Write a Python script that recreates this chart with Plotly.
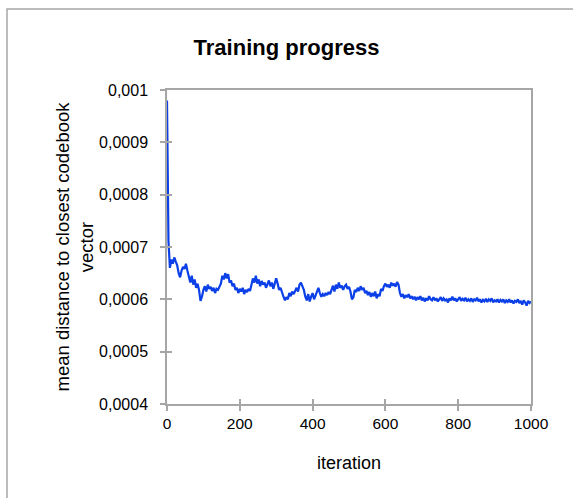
import plotly.graph_objects as go

# ---- data ----
head_iterations = [0, 1, 2, 3]
head_values = [0.00098, 0.00086, 0.00076, 0.000715]

step_iterations = list(range(4, 1001, 4))
step_values = [
    712, 660, 676, 668, 680, 672, 665, 650, 642, 655,
    662, 658, 668, 655, 640, 632, 645, 628, 638, 622,
    630, 618, 597, 605, 618, 625, 615, 628, 620, 624,
    616, 622, 612, 620, 618, 625, 630, 645, 638, 650,
    640, 648, 632, 636, 625, 630, 618, 622, 612, 620,
    615, 622, 610, 618, 614, 620, 616, 628, 640, 632,
    645, 630, 638, 625, 635, 628, 632, 622, 630, 636,
    625, 632, 620, 628, 640, 630, 618, 622, 612, 605,
    598, 604, 600, 612, 606, 615, 610, 618, 622, 615,
    628, 632, 624, 618, 605, 598, 610, 596, 605, 612,
    600, 608, 618, 622, 612, 605, 610, 606, 612, 608,
    614, 610, 618, 626, 615, 628, 620, 632, 622, 626,
    618, 625, 628, 620, 624, 615, 600, 604, 618, 614,
    622, 616, 625, 618, 622, 612, 616, 608, 614, 605,
    612, 606, 615, 602, 610, 606, 620, 616, 625, 630,
    624, 628, 622, 632, 626, 630, 624, 633, 628, 612,
    605, 610, 602, 608, 604, 610, 602, 606, 600, 605,
    598, 604, 600, 606, 598, 603, 596, 602, 598, 606,
    600, 598, 604, 598, 602, 596, 600, 604, 597, 602,
    598, 600, 594, 602, 598, 605, 598, 602, 596, 600,
    604, 597, 601, 598, 603, 596, 600, 597, 602, 595,
    600, 598, 603, 596, 600, 594, 599, 596, 601, 595,
    600, 597, 602, 594, 598, 596, 600, 594, 599, 596,
    600, 593, 598, 595, 600, 594, 598, 592, 597, 595,
    600, 593, 597, 590, 598, 594, 588, 597, 593, 596,
]  # in units of 1e-6

iterations = head_iterations + step_iterations
distances = head_values + [v * 1e-6 for v in step_values]

y_tick_vals = [0.0004, 0.0005, 0.0006, 0.0007, 0.0008, 0.0009, 0.001]
y_tick_labels = ["0,0004", "0,0005", "0,0006", "0,0007", "0,0008", "0,0009", "0,001"]
x_tick_vals = [0, 200, 400, 600, 800, 1000]
x_tick_labels = ["0", "200", "400", "600", "800", "1000"]

title_text = "Training progress"
x_title = "iteration"
y_title = "mean distance to closest codebook<br>vector"

# ---- figure ----
FONT = "Liberation Sans, Arial, sans-serif"
AXIS_COLOR = "#a6a6a6"

fig = go.Figure()
fig.add_trace(go.Scatter(
    x=iterations, y=distances, mode="lines",
    line=dict(color="#0b3fe8", width=2.2),
    showlegend=False, hoverinfo="skip",
))
# invisible trace on overlay axes to draw "inside" halves of the cross ticks
fig.add_trace(go.Scatter(
    x=[0, 1000], y=[0.0004, 0.001], mode="markers",
    marker=dict(opacity=0), xaxis="x2", yaxis="y2",
    showlegend=False, hoverinfo="skip",
))

fig.update_layout(
    width=573, height=498,
    margin=dict(l=167, r=42, t=90, b=94),
    paper_bgcolor="white", plot_bgcolor="white",
    font=dict(family=FONT, color="#000000", size=16),
    title=dict(text="<b>" + title_text + "</b>", x=0.5, xanchor="center",
               y=1 - 47 / 498, yanchor="middle",
               font=dict(family=FONT, size=22, color="#000000")),
    xaxis=dict(
        range=[0, 1000], tickvals=x_tick_vals, ticktext=x_tick_labels,
        showgrid=False, zeroline=False,
        showline=True, linecolor=AXIS_COLOR, linewidth=1.5, mirror=True,
        ticks="outside", ticklen=5, tickcolor=AXIS_COLOR, tickwidth=1.5,
        tickfont=dict(size=15.5, family=FONT),
        title=dict(text=x_title, font=dict(size=18, family=FONT), standoff=25),
    ),
    yaxis=dict(
        range=[0.0004, 0.001], tickvals=y_tick_vals, ticktext=y_tick_labels,
        showgrid=False, zeroline=False,
        showline=True, linecolor=AXIS_COLOR, linewidth=1.5, mirror=True,
        ticks="outside", ticklen=5, tickcolor=AXIS_COLOR, tickwidth=1.5,
        ticklabelstandoff=9,
        tickfont=dict(size=16, family=FONT),
        title=dict(text=y_title, font=dict(size=18.5, family=FONT), standoff=1),
    ),
    xaxis2=dict(range=[0, 1000], overlaying="x", tickvals=x_tick_vals,
                showticklabels=False, ticks="inside", ticklen=5,
                tickcolor=AXIS_COLOR, tickwidth=1.5, showgrid=False,
                zeroline=False, showline=False),
    yaxis2=dict(range=[0.0004, 0.001], overlaying="y", tickvals=y_tick_vals,
                showticklabels=False, ticks="inside", ticklen=5,
                tickcolor=AXIS_COLOR, tickwidth=1.5, showgrid=False,
                zeroline=False, showline=False),
)

# outer chart border (top and left edges visible)
W_PLOT = 573 - 167 - 42
H_PLOT = 498 - 90 - 94
fig.add_shape(type="rect", xref="paper", yref="paper",
              x0=(7 - 167) / W_PLOT, x1=(600 - 167) / W_PLOT,
              y0=(404 - 520) / H_PLOT, y1=(404 - 9) / H_PLOT,
              line=dict(color="#a6a6a6", width=1.5), layer="below")

fig.write_html("out.html",
               config={"displayModeBar": False},
               post_script="document.body.style.margin='0px';document.body.style.padding='0px';")
